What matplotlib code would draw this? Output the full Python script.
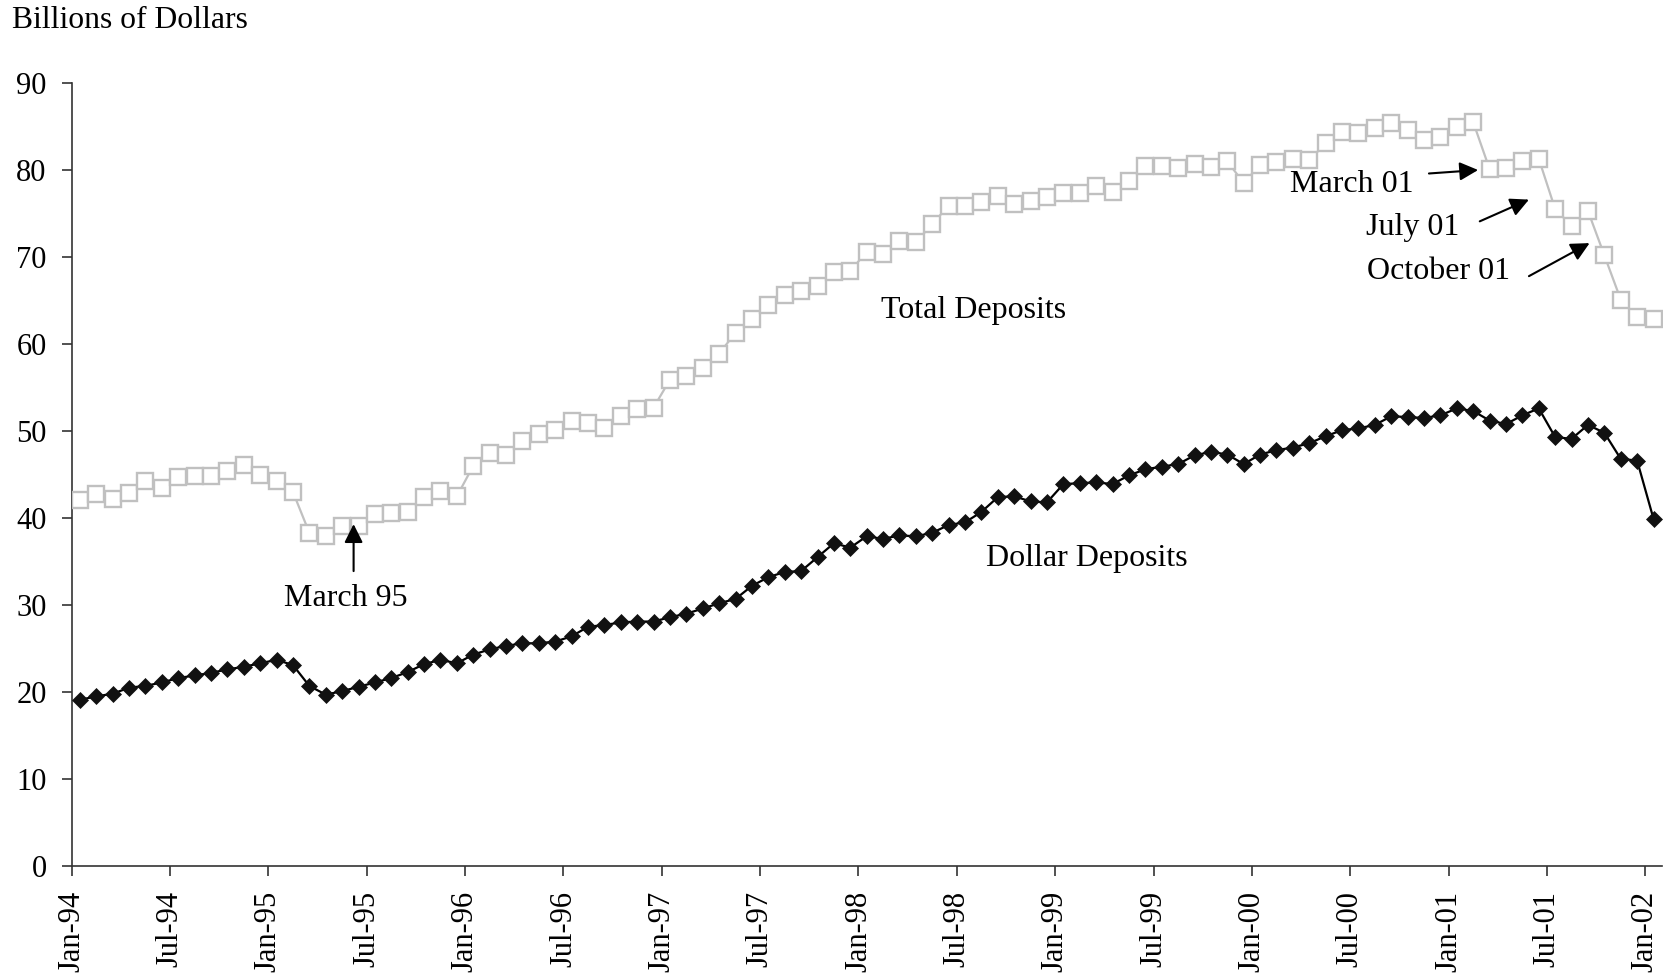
import matplotlib
matplotlib.use('Agg')
import matplotlib.pyplot as plt
import numpy as np
import pandas as pd

# monthly, Jan-94 .. Jan-02
months = pd.date_range('1994-01-01', '2002-01-01', freq='MS')

total_deposits = [
    42.1, 42.8, 42.2, 42.9, 44.2, 43.4, 44.7, 44.8, 44.8, 45.4, 46.1, 44.9,
    44.2, 43.0, 38.3, 37.9, 39.1, 39.1, 40.5, 40.6, 40.7, 42.4, 43.1, 42.5,
    46.0, 47.5, 47.2, 48.9, 49.6, 50.1, 51.1, 50.9, 50.4, 51.7, 52.5, 52.7,
    55.9, 56.3, 57.3, 58.9, 61.3, 62.9, 64.5, 65.6, 66.1, 66.7, 68.3, 68.4,
    70.6, 70.3, 71.8, 71.7, 73.8, 75.9, 75.9, 76.3, 77.0, 76.1, 76.4, 76.9,
    77.4, 77.4, 78.2, 77.5, 78.7, 80.5, 80.5, 80.2, 80.7, 80.3, 81.0, 78.5,
    80.6, 80.9, 81.3, 81.1, 83.1, 84.4, 84.3, 84.8, 85.4, 84.6, 83.5, 83.8,
    84.9, 85.5, 80.1, 80.2, 81.0, 81.3, 75.5, 73.6, 75.3, 70.2, 65.1, 63.1,
    62.9,
]

dollar_deposits = [
    19.1, 19.5, 19.8, 20.5, 20.7, 21.1, 21.6, 21.9, 22.2, 22.6, 22.9, 23.3,
    23.7, 23.1, 20.7, 19.7, 20.1, 20.6, 21.1, 21.6, 22.3, 23.2, 23.7, 23.3,
    24.3, 24.9, 25.3, 25.6, 25.6, 25.8, 26.4, 27.5, 27.7, 28.0, 28.1, 28.1,
    28.6, 29.0, 29.6, 30.2, 30.7, 32.2, 33.2, 33.8, 33.9, 35.5, 37.1, 36.6,
    37.9, 37.6, 38.0, 37.9, 38.3, 39.2, 39.5, 40.7, 42.4, 42.5, 41.9, 41.8,
    43.9, 44.0, 44.1, 43.9, 44.9, 45.6, 45.9, 46.2, 47.2, 47.6, 47.3, 46.2,
    47.3, 47.8, 48.1, 48.6, 49.4, 50.1, 50.3, 50.7, 51.7, 51.6, 51.5, 51.8,
    52.6, 52.3, 51.2, 50.8, 51.8, 52.6, 49.3, 49.1, 50.7, 49.8, 46.8, 46.6,
    39.9,
]

plt.rcParams['font.family'] = ['Liberation Serif', 'DejaVu Serif']

fig = plt.figure(figsize=(16.78, 9.8), dpi=100)
ax = fig.add_axes([0.0427, 0.1163, 0.9476, 0.799])

x = np.arange(len(months)) + 0.5

ax.plot(x, total_deposits, color='#c0c0c0', lw=1.6, marker='s', ms=11,
        mfc='white', mec='#c0c0c0', mew=1.7, zorder=3)
ax.plot(x, dollar_deposits, color='black', lw=1.6, marker='D', ms=8.5,
        mfc='#111111', mec='#111111', mew=0.5, zorder=3)

ax.set_xlim(0, len(months))
ax.set_ylim(0, 90)
ax.set_yticks(np.arange(0, 91, 10))
ticks = np.arange(0, len(months), 6)
ax.set_xticks(ticks)
ax.set_xticklabels([months[i].strftime('%b-%y') for i in ticks], rotation=90)

for side in ['top', 'right']:
    ax.spines[side].set_visible(False)
for side in ['left', 'bottom']:
    ax.spines[side].set_color('#333333')
    ax.spines[side].set_linewidth(1.2)
ax.tick_params(axis='both', direction='out', length=7, width=1.2,
               color='#333333', labelsize=22, pad=11)

fig.text(12 / 1678, 1 - 28 / 980, 'Billions of Dollars', fontsize=22.8,
         va='baseline', ha='left')

fs = 23
ax.text(55.0, 63.9, 'Total Deposits', fontsize=fs, ha='center', va='center')
ax.text(61.9, 35.4, 'Dollar Deposits', fontsize=fs, ha='center', va='center')

arrow = dict(arrowstyle='-|>', color='black', lw=1.5, mutation_scale=28,
             shrinkA=0, shrinkB=0)
ax.text(16.7, 30.7, 'March 95', fontsize=fs, ha='center', va='center')
ax.annotate('', xy=(17.2, 39.3), xytext=(17.2, 33.9), arrowprops=arrow)

ax.text(78.1, 78.3, 'March 01', fontsize=fs, ha='center', va='center')
ax.annotate('', xy=(85.8, 80.0), xytext=(82.8, 79.6), arrowprops=arrow)

ax.text(81.8, 73.4, 'July 01', fontsize=fs, ha='center', va='center')
ax.annotate('', xy=(88.9, 76.6), xytext=(85.9, 74.1), arrowprops=arrow)

ax.text(83.4, 68.3, 'October 01', fontsize=fs, ha='center', va='center')
ax.annotate('', xy=(92.6, 71.6), xytext=(88.9, 67.8), arrowprops=arrow)

plt.savefig('out.png', dpi=100)
